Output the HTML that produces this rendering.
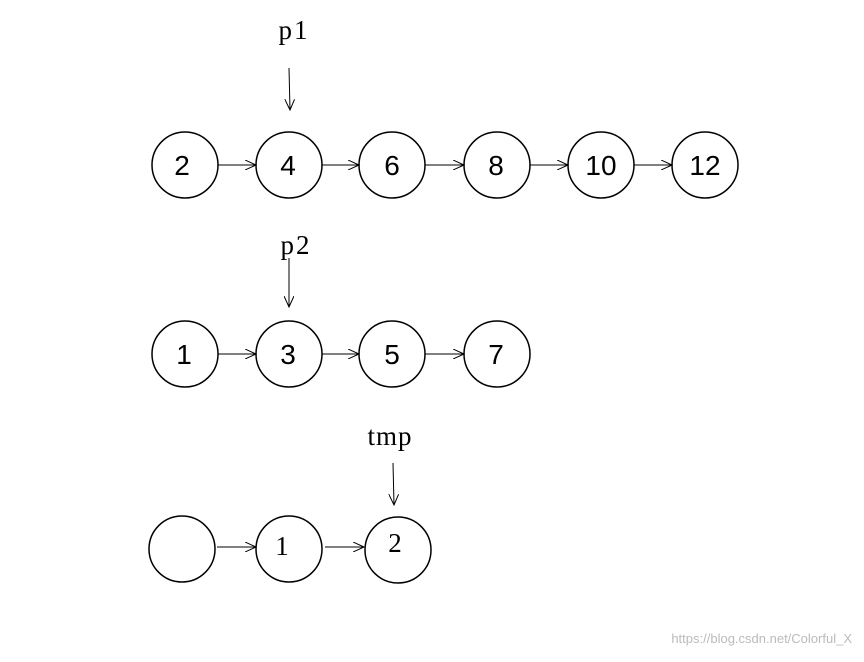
<!DOCTYPE html>
<html><head><style>body{margin:0;background:#fff}</style></head><body>
<svg width="864" height="657" xmlns="http://www.w3.org/2000/svg">
<defs><marker id="a" markerWidth="12" markerHeight="10" refX="11" refY="5" orient="auto" markerUnits="userSpaceOnUse"><path d="M0,0 L11,5 L0,10" fill="none" stroke="#000" stroke-width="1"/></marker></defs>
<g fill="none" stroke="#000" stroke-width="1.5">
<circle cx="185" cy="165" r="33"/><circle cx="289" cy="165" r="33"/><circle cx="392" cy="165" r="33"/><circle cx="497" cy="165" r="33"/><circle cx="601" cy="165" r="33"/><circle cx="705" cy="165" r="33"/>
<circle cx="185" cy="354" r="33"/><circle cx="289" cy="354" r="33"/><circle cx="392" cy="354" r="33"/><circle cx="497" cy="354" r="33"/>
<circle cx="182" cy="549" r="33"/><circle cx="289" cy="549" r="33"/><circle cx="398" cy="550" r="33"/>
</g>
<g stroke="#000" stroke-width="1" marker-end="url(#a)">
<line x1="218" y1="165" x2="256" y2="165"/><line x1="322" y1="165" x2="359" y2="165"/><line x1="425" y1="165" x2="464" y2="165"/><line x1="530" y1="165" x2="568" y2="165"/><line x1="634" y1="165" x2="672" y2="165"/>
<line x1="218" y1="354" x2="256" y2="354"/><line x1="322" y1="354" x2="359" y2="354"/><line x1="425" y1="354" x2="464" y2="354"/>
<line x1="217" y1="547" x2="256" y2="547"/><line x1="325" y1="547" x2="364" y2="547"/>
<line x1="289" y1="68" x2="290" y2="110"/><line x1="289" y1="258" x2="289" y2="307"/><line x1="393" y1="463" x2="394" y2="505"/>
</g>
<g font-family="Liberation Sans, sans-serif" font-size="28" text-anchor="middle">
<text x="182" y="175">2</text><text x="288" y="175">4</text><text x="392" y="175">6</text><text x="496" y="175">8</text><text x="601" y="175">10</text><text x="705" y="175">12</text>
<text x="184" y="364">1</text><text x="288" y="364">3</text><text x="392" y="364">5</text><text x="496" y="364">7</text>
</g>
<g font-family="Liberation Serif, serif" font-size="27" text-anchor="middle">
<text x="282" y="555">1</text><text x="395" y="552">2</text>
<text x="294" y="39" letter-spacing="2">p1</text><text x="296" y="254" letter-spacing="2">p2</text><text x="390" y="445" letter-spacing="1">tmp</text>
</g>
<text x="852" y="643" font-family="Liberation Sans, sans-serif" font-size="13" fill="#bbb" text-anchor="end">https://blog.csdn.net/Colorful_X</text>
</svg>
</body></html>
